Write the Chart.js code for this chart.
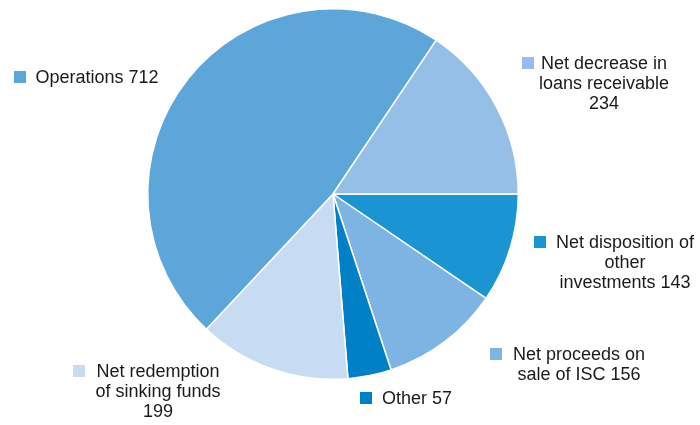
<!DOCTYPE html>
<html>
<head>
<meta charset="utf-8">
<script src="https://cdn.jsdelivr.net/npm/chart.js@4/dist/chart.umd.min.js"></script>
<style>
  body { margin: 0; background: #fff; }
  #wrap { width: 700px; height: 425px; position: relative; }
</style>
</head>
<body>
<div id="wrap"><canvas id="pieChart" width="700" height="425"></canvas></div>
<script>
// slices, clockwise from 3 o'clock
const categories = [
    ["Net disposition of", "other", "investments 143"],
    ["Net proceeds on", "sale of ISC 156"],
    ["Other 57"],
    ["Net redemption", "of sinking funds", "199"],
    ["Operations 712"],
    ["Net decrease in", "loans receivable", "234"]
];
const values = [143, 156, 57, 199, 712, 234];
const colors = ["#1A94D3", "#7DB4E3", "#0081C7", "#C7DCF2", "#5DA6DA", "#95BFE6"];

// where each label block sits: marker square top-left, text centre x
const labelPos = [
    { sx: 534, sy: 236, tx: 625 },
    { sx: 490, sy: 348, tx: 579 },
    { sx: 360, sy: 392, tx: 417 },
    { sx: 73,  sy: 365, tx: 158 },
    { sx: 14,  sy: 71,  tx: 97 },
    { sx: 522, sy: 57,  tx: 604 }
];

const labelPlugin = {
    id: "outsideLabels",
    afterDraw(chart){
        const ctx = chart.ctx;
        ctx.save();
        ctx.font = "18px 'Liberation Sans', Arial, sans-serif";
        ctx.textAlign = "center";
        ctx.textBaseline = "middle";
        categories.forEach((lines, i) => {
            const p = labelPos[i];
            ctx.fillStyle = colors[i];
            ctx.fillRect(p.sx, p.sy, 12, 12);
            ctx.fillStyle = "#1a1a1a";
            lines.forEach((ln, j) => {
                ctx.fillText(ln, p.tx, p.sy + 7 + j * 20);
            });
        });
        ctx.restore();
    }
};

new Chart(
    document.getElementById("pieChart"),
    {
        type: "pie",
        data: {
            labels: categories.map(c => c.join(" ")),
            datasets: [{
                data: values,
                backgroundColor: colors,
                borderColor: "#ffffff",
                borderWidth: 1.5
            }]
        },
        options: {
            responsive: false,
            animation: false,
            rotation: 90,
            layout: {
                padding: { left: 147, right: 181, top: 8, bottom: 45 }
            },
            plugins: {
                legend: { display: false },
                tooltip: { enabled: false }
            }
        },
        plugins: [labelPlugin]
    }
);
</script>
</body>
</html>
